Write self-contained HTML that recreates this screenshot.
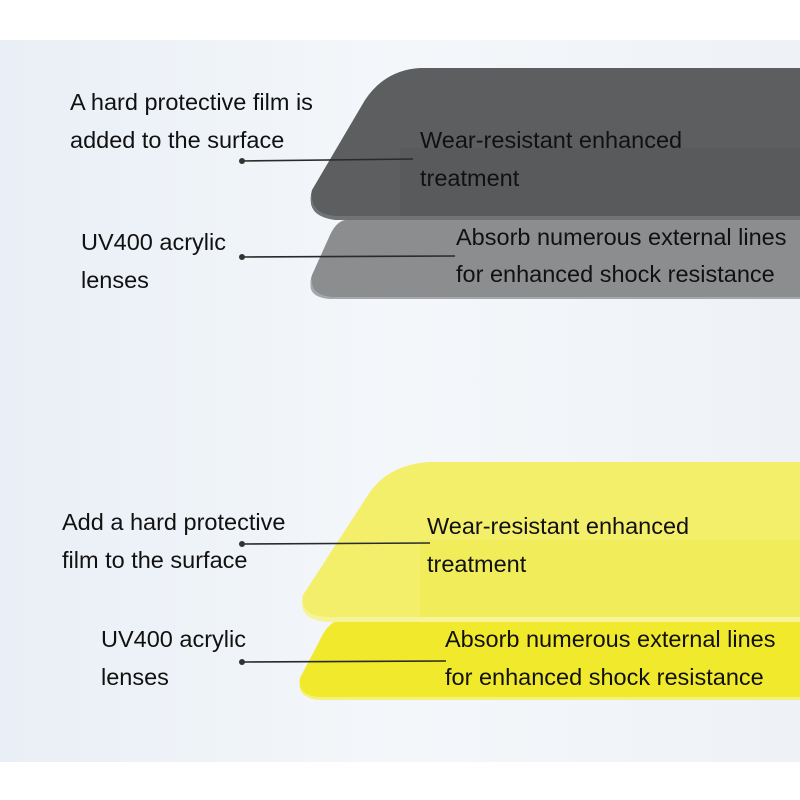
<!DOCTYPE html>
<html><head><style>
html,body{margin:0;padding:0;width:800px;height:800px;overflow:hidden;background:#fff}
svg{display:block}
text{font-family:"Liberation Sans",Arial,sans-serif;font-size:23.5px;fill:#111}
</style></head><body>
<svg width="800" height="800" viewBox="0 0 800 800">
<defs>
<linearGradient id="bg" x1="0" y1="0" x2="1" y2="0">
<stop offset="0" stop-color="#e9eff6"/><stop offset="0.5" stop-color="#f4f7fa"/><stop offset="1" stop-color="#eef2f7"/>
</linearGradient>
</defs>
<rect x="0" y="0" width="800" height="800" fill="#fff"/>
<rect x="0" y="40" width="800" height="722" fill="url(#bg)"/>
<path d="M345,220 L800,220 L800,299 L330,299 Q305,297 312,275 L330,235 Q336,222 345,220 Z" fill="#8c8d8f"/>
<path d="M312,278 Q310,295 332,297 L800,297 L800,299 L330,299 Q305,297 312,278Z" fill="#a7a8aa"/>
<path d="M420,68 L800,68 L800,218 L335,218 Q305,214 312,190 L365,100 Q385,70 420,68 Z" fill="#5d5e60"/>
<rect x="400" y="148" width="400" height="70" fill="#555658" opacity="0.4"/>
<path d="M312,192 Q310,214 335,216 L800,216 L800,220 L335,220 Q305,216 312,192Z" fill="#727375"/>
<path d="M340,620 L800,620 L800,699 L320,699 Q296,697 300,678 L320,640 Q328,622 340,620 Z" fill="#f1ea2c"/>
<path d="M300,680 Q298,696 320,697 L800,697 L800,700 L320,700 Q296,698 300,680Z" fill="#f6f17a"/>
<path d="M430,462 L800,462 L800,620 L325,620 Q298,616 303,595 L370,492 Q390,464 430,462 Z" fill="#f3ef6a"/>
<rect x="420" y="540" width="380" height="78" fill="#efe94a" opacity="0.5"/>
<path d="M303,597 Q300,615 325,617 L800,617 L800,622 L325,622 Q297,618 303,597Z" fill="#f7f39a"/>
<g stroke="#2a2a2a" stroke-width="1.6">
<line x1="242" y1="161" x2="413" y2="159"/>
<line x1="242" y1="257" x2="455" y2="256"/>
<line x1="242" y1="544" x2="430" y2="543"/>
<line x1="242" y1="662" x2="446" y2="661"/>
</g>
<g fill="#333"><circle cx="242" cy="161" r="3"/><circle cx="242" cy="257" r="3"/><circle cx="242" cy="544" r="3"/><circle cx="242" cy="662" r="3"/></g>
<text x="70" y="110">A hard protective film is</text>
<text x="70" y="148">added to the surface</text>
<text x="81" y="250">UV400 acrylic</text>
<text x="81" y="288">lenses</text>
<text x="420" y="148">Wear-resistant enhanced</text>
<text x="420" y="186">treatment</text>
<text x="456" y="245">Absorb numerous external lines</text>
<text x="456" y="282">for enhanced shock resistance</text>
<text x="62" y="530">Add a hard protective</text>
<text x="62" y="568">film to the surface</text>
<text x="101" y="647">UV400 acrylic</text>
<text x="101" y="685">lenses</text>
<text x="427" y="534">Wear-resistant enhanced</text>
<text x="427" y="572">treatment</text>
<text x="445" y="647">Absorb numerous external lines</text>
<text x="445" y="685">for enhanced shock resistance</text>
</svg>
</body></html>
